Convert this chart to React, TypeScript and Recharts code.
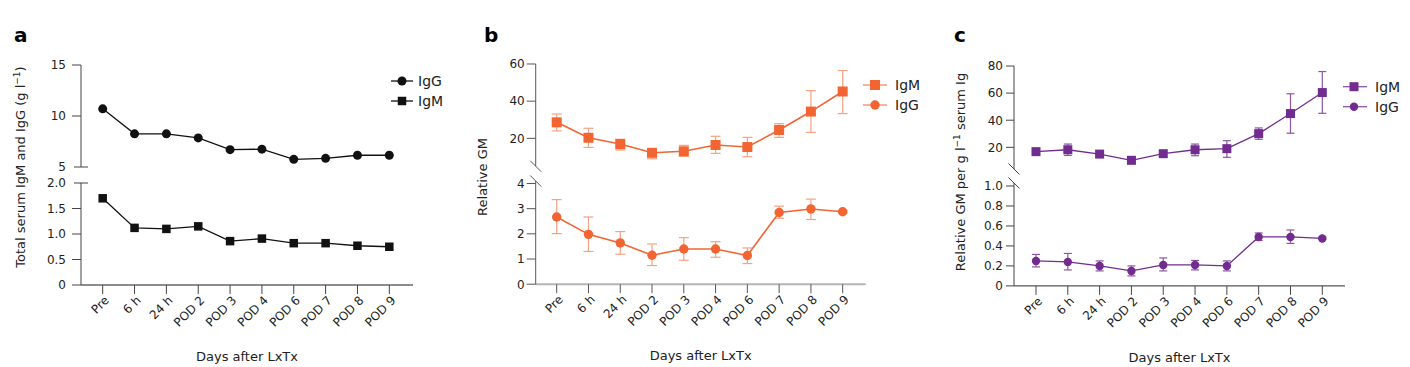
import React from "react";
import { LineChart, Line, XAxis, YAxis, ErrorBar } from "recharts";

const categories = ["Pre", "6 h", "24 h", "POD 2", "POD 3", "POD 4", "POD 6", "POD 7", "POD 8", "POD 9"];

// panel a: total serum Ig (g/l)
const aIgG = [10.7, 8.25, 8.25, 7.85, 6.7, 6.75, 5.75, 5.85, 6.15, 6.15];
const aIgM = [1.7, 1.12, 1.1, 1.15, 0.86, 0.91, 0.82, 0.82, 0.77, 0.75];

// panel b: relative GM
const bIgM = [28.6, 20.3, 16.9, 12.2, 13.0, 16.4, 15.3, 24.5, 34.4, 45.2];
const bIgMLow = [24.0, 15.1, 13.7, 9.0, 10.4, 11.9, 10.1, 20.5, 23.2, 33.3];
const bIgMHigh = [33.1, 25.4, 19.5, 14.4, 16.2, 21.1, 20.5, 27.9, 45.7, 56.5];
const bIgG = [2.67, 1.98, 1.64, 1.15, 1.4, 1.4, 1.14, 2.85, 2.99, 2.88];
const bIgGLow = [2.01, 1.3, 1.19, 0.74, 0.95, 1.07, 0.82, 2.62, 2.57, 2.83];
const bIgGHigh = [3.36, 2.67, 2.09, 1.6, 1.85, 1.69, 1.44, 3.1, 3.38, 2.93];

// panel c: relative GM per g/l serum Ig
const cIgM = [16.8, 18.2, 15.0, 10.4, 15.3, 18.2, 19.0, 30.1, 44.9, 60.4];
const cIgMLow = [15.0, 14.0, 13.5, 8.6, 13.2, 13.8, 12.6, 25.9, 30.4, 45.1];
const cIgMHigh = [18.6, 22.4, 16.6, 12.3, 17.5, 22.4, 24.9, 34.3, 59.5, 75.9];
const cIgG = [0.25, 0.24, 0.2, 0.15, 0.21, 0.21, 0.2, 0.49, 0.49, 0.475];
const cIgGLow = [0.19, 0.16, 0.15, 0.1, 0.15, 0.16, 0.15, 0.455, 0.425, 0.465];
const cIgGHigh = [0.315, 0.325, 0.25, 0.2, 0.28, 0.255, 0.25, 0.53, 0.56, 0.485];

const FONT = "'DejaVu Sans', 'Liberation Sans', Arial, sans-serif";
const TXT = "#222";

type Shape = "circle" | "square";

interface Series {
  name: string;
  values: number[];
  low?: number[];
  high?: number[];
  shape: Shape;
  size: number;
}

interface Part {
  top: number;
  bottom: number;
  domain: [number, number];
  ticks: number[];
  brk: "cross" | "slash";
  brkAt: number;
  fmt: (v: number) => string;
  series: Series;
}

interface Panel {
  letter: string;
  left: number;
  axisX: number;
  axisEnd: number;
  firstTick: number;
  lastTick: number;
  color: string;
  errColor: string;
  capW: number;
  lineW: number;
  axisColor: string;
  xAxisColor: string;
  xAxisW: number;
  tickLen: number;
  labelGap: number;
  yTitle: React.ReactNode;
  yTitleX: number;
  yTitleY: number;
  upper: Part;
  lower: Part;
  legend: { series: Series; y: number }[];
  legX1: number;
  legX2: number;
  legMarkX: number;
  legTextX: number;
  legLine: string;
}

const one = (v: number) => (v === 0 ? "0" : v.toFixed(1));
const int = (v: number) => String(v);

const sup = (pre: string, post: string) => (
  <>
    {pre}
    <tspan dy={-5} fontSize={9}>−1</tspan>
    <tspan dy={5}>{post}</tspan>
  </>
);

const aG: Series = { name: "IgG", values: aIgG, shape: "circle", size: 4.5 };
const aM: Series = { name: "IgM", values: aIgM, shape: "square", size: 8.5 };
const bM: Series = { name: "IgM", values: bIgM, low: bIgMLow, high: bIgMHigh, shape: "square", size: 10 };
const bG: Series = { name: "IgG", values: bIgG, low: bIgGLow, high: bIgGHigh, shape: "circle", size: 4.7 };
const cM: Series = { name: "IgM", values: cIgM, low: cIgMLow, high: cIgMHigh, shape: "square", size: 9 };
const cG: Series = { name: "IgG", values: cIgG, low: cIgGLow, high: cIgGHigh, shape: "circle", size: 4.2 };

const panels: Panel[] = [
  {
    letter: "a", left: 0, axisX: 81, axisEnd: 413, firstTick: 102.7, lastTick: 389.3,
    color: "#111", errColor: "#111", capW: 5, lineW: 1.3, axisColor: "#444", xAxisColor: "#666", xAxisW: 1.6,
    tickLen: 9, labelGap: 15,
    yTitle: sup("Total serum IgM and IgG (g l", ")"), yTitleX: 20, yTitleY: 167,
    upper: { top: 65, bottom: 167, domain: [5, 15], ticks: [5, 10, 15], brk: "cross", brkAt: 5, fmt: int, series: aG },
    lower: { top: 183, bottom: 285, domain: [0, 2], ticks: [0, 0.5, 1, 1.5, 2], brk: "cross", brkAt: 2, fmt: one, series: aM },
    legend: [{ series: aG, y: 81 }, { series: aM, y: 101 }],
    legX1: 391, legX2: 413, legMarkX: 402, legTextX: 418, legLine: "#111",
  },
  {
    letter: "b", left: 470, axisX: 535.7, axisEnd: 865.7, firstTick: 556.7, lastTick: 842.7,
    color: "#F26532", errColor: "#F6A283", capW: 5, lineW: 1.6, axisColor: "#555", xAxisColor: "#b5b5b5", xAxisW: 2,
    tickLen: 9, labelGap: 11,
    yTitle: "Relative GM", yTitleX: 482, yTitleY: 177,
    upper: { top: 64, bottom: 166.2, domain: [5, 60], ticks: [5, 20, 40, 60], brk: "slash", brkAt: 5, fmt: int, series: bM },
    lower: { top: 180.8, bottom: 284, domain: [0, 4.1], ticks: [0, 1, 2, 3, 4, 4.1], brk: "slash", brkAt: 4.1, fmt: int, series: bG },
    legend: [{ series: bM, y: 85 }, { series: bG, y: 105 }],
    legX1: 863, legX2: 887, legMarkX: 875, legTextX: 895, legLine: "#F6A283",
  },
  {
    letter: "c", left: 940, axisX: 1014, axisEnd: 1345, firstTick: 1036, lastTick: 1322.3,
    color: "#722C8F", errColor: "#8C55A8", capW: 4, lineW: 1.3, axisColor: "#444", xAxisColor: "#555", xAxisW: 1.2,
    tickLen: 8, labelGap: 11,
    yTitle: sup("Relative GM per g l", " serum Ig"), yTitleX: 960, yTitleY: 172,
    upper: { top: 66, bottom: 169, domain: [4, 80], ticks: [4, 20, 40, 60, 80], brk: "slash", brkAt: 4, fmt: int, series: cM },
    lower: { top: 182.8, bottom: 285.7, domain: [0, 1.03], ticks: [0, 0.2, 0.4, 0.6, 0.8, 1.0, 1.03], brk: "slash", brkAt: 1.03, fmt: one, series: cG },
    legend: [{ series: cM, y: 86.7 }, { series: cG, y: 106.7 }],
    legX1: 1343, legX2: 1367, legMarkX: 1354, legTextX: 1375, legLine: "#8C55A8",
  },
];

function rowsFor(s: Series) {
  return categories.map((t, i) => ({
    t,
    v: s.values[i],
    err: s.low && s.high ? [s.values[i] - s.low[i], s.high[i] - s.values[i]] : undefined,
  }));
}

function marker(shape: Shape, size: number, cx: number, cy: number, fill: string, key?: string | number) {
  if (shape === "square")
    return <rect key={key} x={cx - size / 2} y={cy - size / 2} width={size} height={size} fill={fill} />;
  return <circle key={key} cx={cx} cy={cy} r={size} fill={fill} />;
}

const M = 10;
const X_AXIS_H = 82;

function PartChart({ p, part, isLower }: { p: Panel; part: Part; isLower: boolean }) {
  const yw = p.axisX - p.left;
  const width = p.axisEnd - p.left + 6;
  const plotH = part.bottom - part.top;
  const height = isLower ? M + plotH + X_AXIS_H : M + plotH + M;
  const s = part.series;

  const yTick = (props: any) => {
    const { y, payload } = props;
    const v = payload.value as number;
    const ax = yw;
    if (v === part.brkAt && part.brk === "slash")
      return <line x1={ax - 5.5} y1={y - 5.5} x2={ax + 5.5} y2={y + 5.5} stroke={p.axisColor} strokeWidth={1} />;
    const cross = v === part.brkAt;
    return (
      <g>
        <line x1={cross ? ax - 7 : ax - p.tickLen} x2={cross ? ax + 7 : ax} y1={y} y2={y} stroke={p.axisColor} strokeWidth={1} />
        <text x={ax - p.labelGap} y={y} dy="0.36em" textAnchor="end" fontSize={12} fill={TXT} fontFamily={FONT}>
          {part.fmt(v)}
        </text>
      </g>
    );
  };

  const xTick = (props: any) => {
    const { x, y, payload } = props;
    const tx = x + 4;
    const ty = y + 2;
    return (
      <text x={tx} y={ty} dy="0.36em" transform={`rotate(-45 ${tx} ${ty})`} textAnchor="end" fontSize={12} fill={TXT} fontFamily={FONT}>
        {payload.value}
      </text>
    );
  };

  return (
    <div style={{ position: "absolute", left: p.left, top: part.top - M }}>
      <LineChart width={width} height={height} data={rowsFor(s)} margin={{ top: M, right: 6, bottom: isLower ? 0 : M, left: 0 }}>
        {isLower ? (
          <XAxis
            dataKey="t"
            interval={0}
            padding={{ left: p.firstTick - p.axisX, right: p.axisEnd - p.lastTick }}
            height={X_AXIS_H}
            tickSize={9}
            tickMargin={2}
            axisLine={{ stroke: p.xAxisColor, strokeWidth: p.xAxisW }}
            tickLine={{ stroke: p.axisColor }}
            tick={xTick}
            label={{ value: "Days after LxTx", position: "insideBottom", offset: 6, fontSize: 13, fill: TXT }}
          />
        ) : (
          <XAxis dataKey="t" hide padding={{ left: p.firstTick - p.axisX, right: p.axisEnd - p.lastTick }} />
        )}
        <YAxis
          type="number"
          width={yw}
          domain={part.domain}
          ticks={part.ticks}
          allowDataOverflow
          interval={0}
          axisLine={{ stroke: p.axisColor, strokeWidth: 1 }}
          tickLine={false}
          tick={yTick}
        />
        <Line
          dataKey="v"
          stroke={p.color}
          strokeWidth={p.lineW}
          isAnimationActive={false}
          dot={(d: any) => marker(s.shape, s.size, d.cx, d.cy, p.color, d.index)}
          activeDot={false}
        >
          {s.low && <ErrorBar dataKey="err" width={p.capW} stroke={p.errColor} strokeWidth={1.2} direction="y" />}
        </Line>
      </LineChart>
    </div>
  );
}

function Overlay() {
  return (
    <svg width={1410} height={367} style={{ position: "absolute", left: 0, top: 0, pointerEvents: "none" }} fontFamily={FONT}>
      {panels.map((p) => (
        <g key={p.letter}>
          <text x={p.left + 14} y={42} fontSize={20} fontWeight="bold" fill="#000">
            {p.letter}
          </text>
          <text transform={`translate(${p.yTitleX},${p.yTitleY}) rotate(-90)`} textAnchor="middle" dy="0.36em" fontSize={13} fill={TXT}>
            {p.yTitle}
          </text>
          {p.legend.map((l, i) => (
            <g key={i}>
              <line x1={p.legX1} x2={p.legX2} y1={l.y} y2={l.y} stroke={p.legLine} strokeWidth={p.lineW} />
              {marker(l.series.shape, l.series.size, p.legMarkX, l.y, p.color)}
              <text x={p.legTextX} y={l.y} dy="0.36em" fontSize={14} fill={TXT}>
                {l.series.name}
              </text>
            </g>
          ))}
        </g>
      ))}
    </svg>
  );
}

export default function App() {
  return (
    <div style={{ position: "absolute", left: 0, top: 0, width: 1410, height: 367, background: "#fff", fontFamily: FONT, overflow: "hidden" }}>
      {panels.map((p) => (
        <React.Fragment key={p.letter}>
          <PartChart p={p} part={p.upper} isLower={false} />
          <PartChart p={p} part={p.lower} isLower={true} />
        </React.Fragment>
      ))}
      <Overlay />
    </div>
  );
}
